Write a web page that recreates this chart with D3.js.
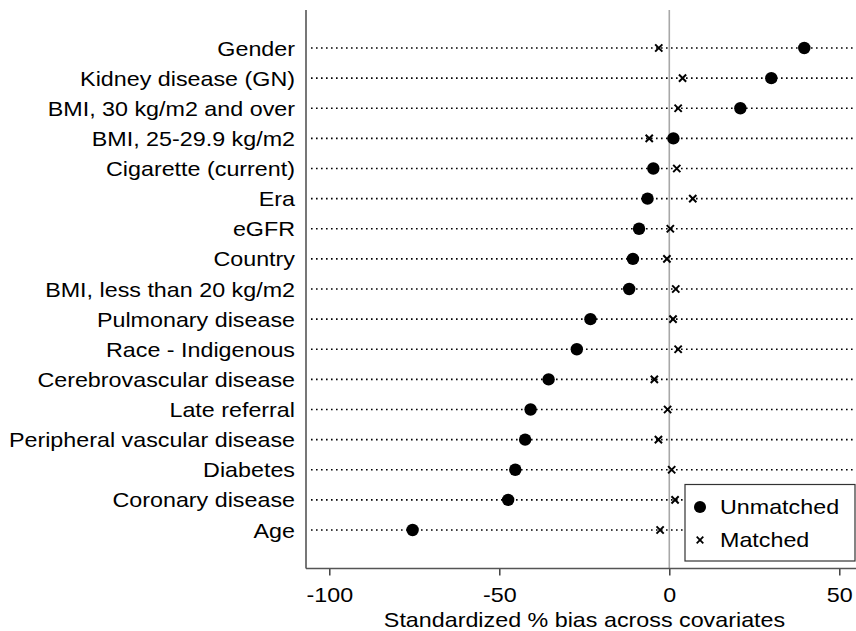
<!DOCTYPE html>
<html>
<head>
<meta charset="utf-8">
<script src="https://cdn.jsdelivr.net/npm/d3@7"></script>
<style>
  html, body { margin: 0; padding: 0; background: #fff; }
  svg { display: block; font-family: "Liberation Sans", Arial, Helvetica, sans-serif; }
</style>
</head>
<body>
<svg id="chart" width="856" height="631"></svg>
<script>
// Covariates, top to bottom
const covariates = [
  "Gender", "Kidney disease (GN)", "BMI, 30 kg/m2 and over", "BMI, 25-29.9 kg/m2",
  "Cigarette (current)", "Era", "eGFR", "Country", "BMI, less than 20 kg/m2",
  "Pulmonary disease", "Race - Indigenous", "Cerebrovascular disease", "Late referral",
  "Peripheral vascular disease", "Diabetes", "Coronary disease", "Age"
];
// Standardized % bias before matching
const unmatched = [39.7, 30.0, 20.9, 1.2, -4.7, -6.4, -8.9, -10.7, -11.8,
  -23.2, -27.2, -35.5, -40.8, -42.4, -45.3, -47.4, -75.5];
// Standardized % bias after matching
const matched = [-3.1, 3.9, 2.6, -5.9, 2.2, 6.9, 0.3, -0.7, 1.9,
  1.1, 2.6, -4.4, -0.5, -3.2, 0.7, 1.7, -2.7];
const xTicks = [-100, -50, 0, 50];
const legendLabels = ["Unmatched", "Matched"];

const svg = d3.select("#chart");
const plot = { left: 306, right: 856, top: 10, bottom: 568.5 };
const FONT = 20;
const STRETCH = 1.165;   // wide-set lettering

// 0 sits at 669.3, 50 units span 170px
const x = d3.scaleLinear().domain([-100, 50]).range([329.3, 839.3]);
const y = d3.scalePoint().domain(covariates).range([48, 530]);

// Draws a horizontally widened text label at (px, py)
function label(parent, px, py, str, anchor) {
  return parent.append("text")
    .attr("transform", `translate(${px},${py}) scale(${STRETCH},1)`)
    .attr("text-anchor", anchor || "start")
    .attr("font-size", FONT).attr("fill", "#000")
    .text(str);
}

// Dotted guide line per covariate
svg.append("g").selectAll("line").data(covariates).join("line")
  .attr("x1", plot.left + 5).attr("x2", plot.right)
  .attr("y1", d => y(d)).attr("y2", d => y(d))
  .attr("stroke", "#000").attr("stroke-width", 1.6)
  .attr("stroke-dasharray", "1.6,3.4");

// Reference line at zero bias
svg.append("line")
  .attr("x1", x(0)).attr("x2", x(0))
  .attr("y1", plot.top).attr("y2", plot.bottom)
  .attr("stroke", "#a8a8a8").attr("stroke-width", 1.6);

// Left axis with covariate names
const yAxis = svg.append("g").attr("transform", `translate(${plot.left},0)`)
  .call(d3.axisLeft(y).tickSize(0).tickPadding(0));
yAxis.select(".domain").remove();
yAxis.selectAll(".tick text")
  .attr("x", null).attr("dy", null).attr("y", 7)
  .attr("transform", `translate(-11,0) scale(${STRETCH},1)`)
  .attr("font-size", FONT).attr("fill", "#000")
  .attr("font-family", "Liberation Sans, Arial, sans-serif");
svg.append("line")
  .attr("x1", plot.left).attr("x2", plot.left)
  .attr("y1", plot.top).attr("y2", plot.bottom)
  .attr("stroke", "#555").attr("stroke-width", 1.6);

// Bottom axis
const xAxis = svg.append("g").attr("transform", `translate(0,${plot.bottom})`)
  .call(d3.axisBottom(x).tickValues(xTicks).tickSize(7).tickPadding(0));
xAxis.select(".domain").remove();
xAxis.selectAll(".tick line").attr("stroke", "#333").attr("stroke-width", 1.4);
xAxis.selectAll(".tick text")
  .attr("y", null).attr("dy", null)
  .attr("transform", `translate(0,33) scale(${STRETCH},1)`)
  .attr("font-size", FONT).attr("fill", "#000")
  .attr("font-family", "Liberation Sans, Arial, sans-serif")
  .text(d => d < 0 ? "-" + Math.abs(d) : d);
svg.append("line")
  .attr("x1", plot.left).attr("x2", plot.right)
  .attr("y1", plot.bottom).attr("y2", plot.bottom)
  .attr("stroke", "#555").attr("stroke-width", 1.6);

label(svg, 584.5, 627, "Standardized % bias across covariates", "middle");

// Markers
const crossPath = s => `M${-s},${-s}L${s},${s}M${-s},${s}L${s},${-s}`;

svg.append("g").selectAll("path").data(matched).join("path")
  .attr("transform", (d, i) => `translate(${x(d)},${y(covariates[i])})`)
  .attr("d", crossPath(3.6))
  .attr("stroke", "#000").attr("stroke-width", 2).attr("fill", "none");

svg.append("g").selectAll("circle").data(unmatched).join("circle")
  .attr("cx", d => x(d)).attr("cy", (d, i) => y(covariates[i]))
  .attr("r", 6.2).attr("fill", "#000");

// Legend
const lg = svg.append("g");
lg.append("rect")
  .attr("x", 685).attr("y", 484.5).attr("width", 170).attr("height", 76.5)
  .attr("fill", "#fff").attr("stroke", "#333").attr("stroke-width", 1.2);
lg.append("circle").attr("cx", 700).attr("cy", 507).attr("r", 6).attr("fill", "#000");
lg.append("path").attr("transform", "translate(700,540)").attr("d", crossPath(3.3))
  .attr("stroke", "#000").attr("stroke-width", 1.8);
legendLabels.forEach((t, i) => label(lg, 720, 507 + i * 33 + 7, t));
</script>
</body>
</html>
